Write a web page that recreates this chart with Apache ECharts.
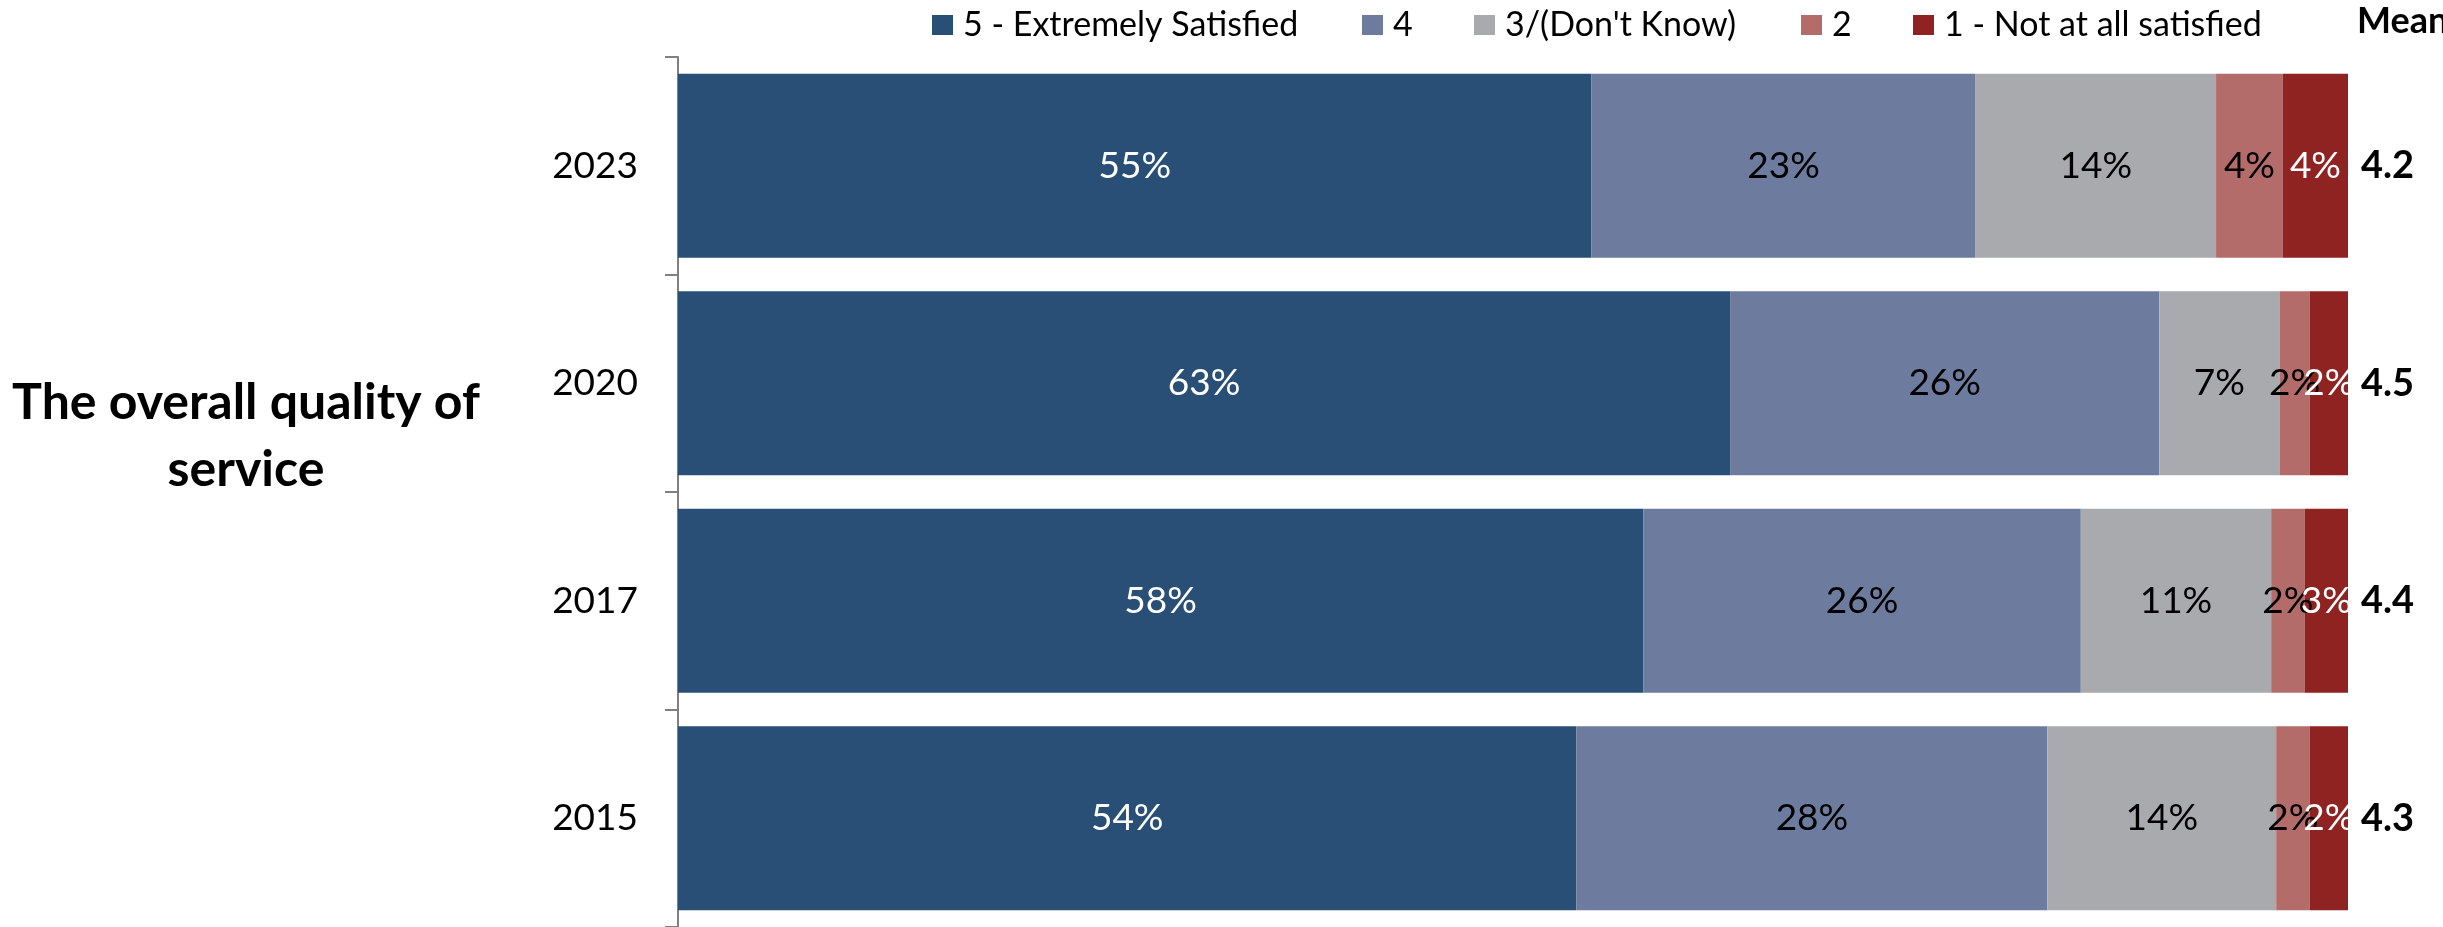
<!DOCTYPE html>
<html>
<head>
<meta charset="utf-8">
<script src="https://cdn.jsdelivr.net/npm/echarts@6/dist/echarts.min.js"></script>
<style>
html,body{margin:0;padding:0;background:#fff;}
#chart{width:2443px;height:927px;}
</style>
</head>
<body>
<div id="chart"></div>
<script>
var years = ['2023', '2020', '2017', '2015'];
var seriesNames = ['5 - Extremely Satisfied', '4', '3/(Don\'t Know)', '2', '1 - Not at all satisfied'];
var s5 = [54.7, 63.0, 57.8, 53.8];
var s4 = [23.0, 25.7, 26.2, 28.2];
var s3 = [14.4, 7.2, 11.4, 13.7];
var s2 = [4.0, 1.8, 2.0, 2.0];
var s1 = [3.9, 2.3, 2.6, 2.3];
var means = ['4.2', '4.5', '4.4', '4.3'];
var rowTitle = 'The overall quality of\nservice';
var meanTitle = 'Mean';

var colors = ['#294F76', '#6D7C9E', '#A9AAAE', '#B36C6A', '#8F2322'];
var labelColors = ['#ffffff', '#000000', '#000000', '#000000', '#ffffff'];
var allData = [s5, s4, s3, s2, s1];
var FONT = 'Lato';

var series = allData.map(function (d, i) {
  return {
    name: seriesNames[i],
    type: 'bar',
    stack: 'total',
    barCategoryGap: '15.4%',
    data: d,
    itemStyle: { color: colors[i] },
    label: {
      show: true,
      position: 'inside',
      formatter: function (p) { return Math.round(p.value) + '%'; },
      color: labelColors[i],
      fontFamily: FONT,
      fontSize: 37,
      textBorderWidth: 0
    },
    emphasis: { disabled: true }
  };
});

var legendLefts = [932, 1362, 1474, 1801, 1913];
var legends = seriesNames.map(function (n, i) {
  return {
    data: [n],
    left: legendLefts[i],
    top: 8,
    itemWidth: 21,
    itemHeight: 20,
    itemGap: 0,
    icon: 'rect',
    padding: 0,
    selectedMode: false,
    textStyle: {
      fontFamily: FONT,
      fontSize: 34,
      color: '#000',
      padding: [0, 0, 0, 5],
      lineHeight: 20
    }
  };
});

var chart = echarts.init(document.getElementById('chart'), null, { renderer: 'canvas' });
chart.setOption({
  animation: false,
  backgroundColor: '#ffffff',
  color: colors,
  legend: legends,
  grid: { left: 678, right: 95, top: 57, bottom: 0, containLabel: false },
  xAxis: {
    type: 'value',
    min: 0,
    max: 100,
    show: false
  },
  yAxis: [
    {
      type: 'category',
      data: years,
      inverse: true,
      axisLine: { show: true, lineStyle: { color: '#808080', width: 2 } },
      axisTick: { show: true, length: 13, lineStyle: { color: '#808080', width: 2 } },
      axisLabel: {
        fontFamily: FONT,
        fontSize: 37,
        color: '#000',
        margin: 40
      }
    },
    {
      type: 'category',
      data: means,
      inverse: true,
      position: 'right',
      axisLine: { show: false },
      axisTick: { show: false },
      axisLabel: {
        fontFamily: FONT,
        fontSize: 38,
        fontWeight: 'bold',
        color: '#000',
        margin: 13,
        align: 'left'
      }
    }
  ],
  graphic: [
    {
      type: 'text',
      left: 2357,
      top: 3,
      style: {
        text: meanTitle,
        font: 'bold 36px ' + FONT,
        fill: '#000'
      }
    },
    {
      type: 'text',
      x: 246,
      y: 436,
      style: {
        text: rowTitle,
        font: 'bold 50px ' + FONT,
        fill: '#000',
        align: 'center',
        verticalAlign: 'middle',
        lineHeight: 67
      }
    }
  ],
  series: series
});
</script>
</body>
</html>
